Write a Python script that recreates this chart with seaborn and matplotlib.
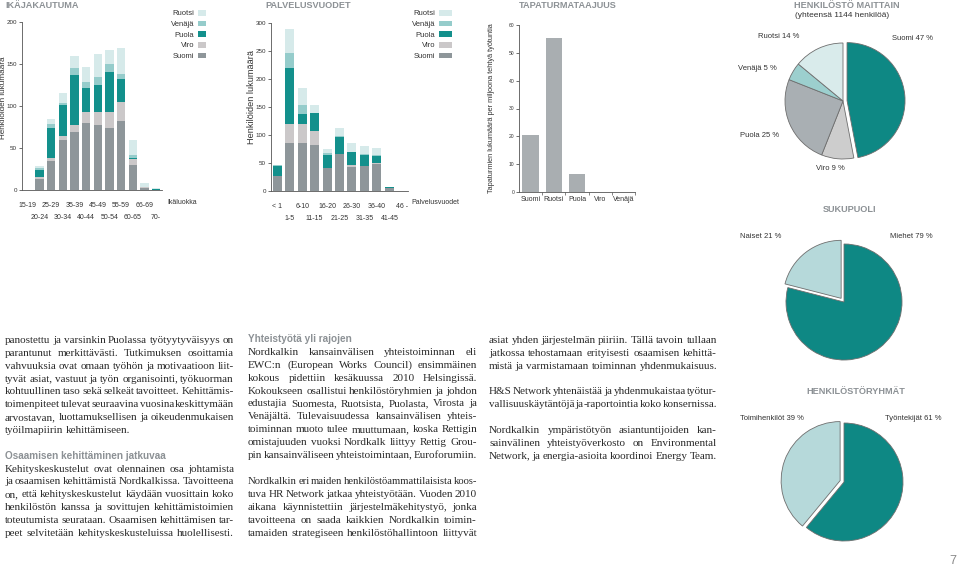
import numpy as np
import pandas as pd
import matplotlib
matplotlib.use("Agg")
import matplotlib.pyplot as plt
import seaborn as sns
from matplotlib.patches import Patch

# ---------------- data ----------------
countries = ["Suomi", "Viro", "Puola", "Venäjä", "Ruotsi"]

age_cats = ["15-19", "20-24", "25-29", "30-34", "35-39", "40-44",
            "45-49", "50-54", "55-59", "60-65", "66-69", "70-"]
age_suomi = [0, 13, 34, 59, 69, 80, 77, 74, 82, 30, 2, 0]
age_viro = [0, 3, 4, 5, 8, 13, 16, 19, 23, 7, 1, 0]
age_puola = [0, 8, 36, 37, 60, 29, 32, 47, 27, 1, 0, 1]
age_venaja = [0, 2, 5, 2, 8, 7, 10, 10, 6, 4, 0, 0]
age_ruotsi = [0, 3, 6, 12, 14, 18, 27, 17, 31, 18, 5, 1]

srv_cats = ["< 1", "1-5", "6-10", "11-15", "16-20", "21-25",
            "26-30", "31-35", "36-40", "41-45", "46 -"]
srv_suomi = [27, 85, 85, 82, 41, 66, 42, 44, 48, 6, 0]
srv_viro = [0, 35, 34, 26, 0, 0, 4, 1, 2, 0, 0]
srv_puola = [17, 99, 19, 32, 24, 31, 23, 20, 13, 1, 0]
srv_venaja = [2, 27, 15, 0, 2, 2, 1, 1, 1, 0, 0]
srv_ruotsi = [1, 44, 31, 13, 8, 14, 16, 15, 12, 0, 0]

acc_cats = ["Suomi", "Ruotsi", "Puola", "Viro", "Venäjä"]
acc_vals = [20.6, 55.2, 6.6, 0, 0]

pie_country_names = ["Suomi", "Viro", "Puola", "Venäjä", "Ruotsi"]
pie_country_vals = [47, 9, 25, 5, 14]
gender_names = ["Miehet", "Naiset"]
gender_vals = [79, 21]
group_names = ["Työntekijät", "Toimihenkilöt"]
group_vals = [61, 39]

# ---------------- style ----------------
sns.set_style("white")
plt.rcParams["font.family"] = ["Liberation Sans", "DejaVu Sans"]

bar_colors = {"Suomi": "#8e969a", "Viro": "#cbc8c9", "Puola": "#13908c",
              "Venäjä": "#95cccb", "Ruotsi": "#d6eaea"}
pie_colors = {"Suomi": "#0e8884", "Viro": "#cdcdcd", "Puola": "#a9afb3",
              "Venäjä": "#9ccfce", "Ruotsi": "#d9ebeb"}
teal = "#0e8884"
light = "#b6d9da"
head_gray = "#8c9195"
txt_dark = "#2a2a2a"

W, H = 960, 566
fig = plt.figure(figsize=(9.6, 5.66), dpi=100, facecolor="white")


def fx(x):
    return x / W


def fy(y):
    return 1 - y / H


def px_axes(l, t, r, b):
    return fig.add_axes([l / W, 1 - b / H, (r - l) / W, (b - t) / H])


def style_axes(ax, ymax, yticks, ysize=4.5):
    sns.despine(ax=ax)
    for s in ["left", "bottom"]:
        ax.spines[s].set_color("#555555")
        ax.spines[s].set_linewidth(0.6)
    ax.set_ylim(0, ymax)
    ax.set_yticks(yticks)
    ax.tick_params(axis="y", left=True, length=2.5, width=0.5, pad=1,
                   labelsize=ysize, colors="#333333")
    ax.set_xlabel("")
    ax.set_ylabel("")
    ax.set_facecolor("none")


def stacked(ax, cats, data, width):
    df = pd.DataFrame(data, index=cats)
    cum = df[countries].cumsum(axis=1)
    for c in reversed(countries):
        sns.barplot(x=list(cats), y=list(cum[c].values), order=list(cats),
                    color=bar_colors[c], saturation=1, width=width,
                    linewidth=0, errorbar=None, ax=ax)
    ax.set_xlim(-0.5, len(cats) - 0.5)
    pos = np.arange(len(cats))
    ax.set_xticks(pos[0::2])
    ax.set_xticklabels(cats[0::2], fontsize=5, color="#333333")
    ax.set_xticks(pos[1::2], minor=True)
    ax.set_xticklabels(cats[1::2], minor=True, fontsize=5, color="#333333")
    ax.tick_params(axis="x", which="major", length=0, pad=9)
    ax.tick_params(axis="x", which="minor", length=0, pad=17)


def legend(anchor_x, anchor_y, hl):
    handles = [Patch(facecolor=bar_colors[c], edgecolor="none", label=c)
               for c in reversed(countries)]
    fig.legend(handles=handles, loc="upper right",
               bbox_to_anchor=(fx(anchor_x), fy(anchor_y)), frameon=False,
               markerfirst=False, fontsize=5.5, handlelength=hl,
               handleheight=0.75, handletextpad=0.5, labelspacing=0.42,
               borderpad=0, borderaxespad=0, labelcolor="#333333")


def title(x, y, s, size=6.6, ha="left"):
    fig.text(fx(x), fy(y), s, ha=ha, va="center", fontsize=size,
             fontweight="bold", color=head_gray)


# ---------------- chart 1: IKÄJAKAUTUMA ----------------
ax1 = px_axes(22, 22, 162, 190)
stacked(ax1, age_cats, {"Suomi": age_suomi, "Viro": age_viro,
                        "Puola": age_puola, "Venäjä": age_venaja,
                        "Ruotsi": age_ruotsi}, 0.72)
style_axes(ax1, 200, [0, 50, 100, 150, 200])
title(5, 5.5, "IKÄJAKAUTUMA")
fig.text(fx(3.6), fy(98), "Henkilöiden lukumäärä", rotation=90,
         ha="center", va="center", fontsize=5.9, color="#333333")
fig.text(fx(167), fy(203), "Ikäluokka", ha="left", va="center",
         fontsize=5, color="#333333")
legend(206, 10, 1.05)

# ---------------- chart 2: PALVELUSVUODET ----------------
ax2 = px_axes(271, 23, 408, 191)
stacked(ax2, srv_cats, {"Suomi": srv_suomi, "Viro": srv_viro,
                        "Puola": srv_puola, "Venäjä": srv_venaja,
                        "Ruotsi": srv_ruotsi}, 0.72)
style_axes(ax2, 300, [0, 50, 100, 150, 200, 250, 300])
title(265, 5.5, "PALVELUSVUODET")
fig.text(fx(251), fy(97), "Henkilöiden lukumäärä", rotation=90,
         ha="center", va="center", fontsize=6.6, color="#333333")
fig.text(fx(411), fy(203), "Palvelusvuodet", ha="left", va="center",
         fontsize=5, color="#333333")
legend(452, 10, 1.7)

# ---------------- chart 3: TAPATURMATAAJUUS ----------------
ax3 = px_axes(519, 25, 635, 192)
sns.barplot(x=acc_cats, y=acc_vals, order=acc_cats, color="#a9aeb1",
            saturation=1, width=0.7, linewidth=0, errorbar=None, ax=ax3)
style_axes(ax3, 60, [0, 10, 20, 30, 40, 50, 60], ysize=3.6)
ax3.set_xlim(-0.5, len(acc_cats) - 0.5)
ax3.set_xticks(np.arange(len(acc_cats)) + 0.5, minor=True)
ax3.tick_params(axis="x", which="minor", bottom=True, length=2.5,
                width=0.5, color="#555555")
ax3.tick_params(axis="x", which="major", length=0, pad=3, labelsize=5,
                colors="#333333")
title(568, 5.5, "TAPATURMATAAJUUS", ha="center")
fig.text(fx(492), fy(108),
         "Tapaturmien lukumäärä per miljoona tehtyä työtuntia",
         rotation=90, ha="center", va="center", fontsize=5.3,
         color="#333333")


# ---------------- pies ----------------
def pie(cx, cy, r, vals, cols, explode):
    half = r * 1.12
    ax = px_axes(cx - half, cy - half, cx + half, cy + half)
    ax.pie(vals, colors=cols, startangle=90, counterclock=False,
           explode=explode,
           wedgeprops=dict(edgecolor="#6e6e6e", linewidth=0.6))
    ax.set_xlim(-1.12, 1.12)
    ax.set_ylim(-1.12, 1.12)
    ax.set_aspect("equal")
    ax.axis("off")


def plabel(x, y, s, ha="left"):
    fig.text(fx(x), fy(y), s, ha=ha, va="center", fontsize=5.5,
             color="#333333")


pie(843, 101, 58, pie_country_vals,
    [pie_colors[n] for n in pie_country_names], [0.07, 0, 0, 0, 0])
title(847, 5.5, "HENKILÖSTÖ MAITTAIN", ha="center")
fig.text(fx(842), fy(15.5), "(yhteensä 1144 henkilöä)", ha="center",
         va="center", fontsize=6, color="#333333")
cv = dict(zip(pie_country_names, pie_country_vals))
plabel(892, 38, f"Suomi {cv['Suomi']} %")
plabel(758, 37, f"Ruotsi {cv['Ruotsi']} %")
plabel(738, 68, f"Venäjä {cv['Venäjä']} %")
plabel(740, 136, f"Puola {cv['Puola']} %")
plabel(816, 168, f"Viro {cv['Viro']} %")

title(850, 210, "SUKUPUOLI", ha="center")
pie(844, 302, 58, gender_vals, [teal, light], [0, 0.08])
gv = dict(zip(gender_names, gender_vals))
plabel(740, 236, f"Naiset {gv['Naiset']} %")
plabel(890, 236, f"Miehet {gv['Miehet']} %")

title(856, 392, "HENKILÖSTÖRYHMÄT", ha="center")
pie(844, 482, 59, group_vals, [teal, light], [0, 0.07])
grv = dict(zip(group_names, group_vals))
plabel(740, 418, f"Toimihenkilöt {grv['Toimihenkilöt']} %")
plabel(885, 418, f"Työntekijät {grv['Työntekijät']} %")

fig.text(fx(953), fy(561), "7", ha="center", va="center", fontsize=9,
         color="#8a8a8a")

# ---------------- body text ----------------
col1 = [
    ("p", "panostettu ja varsinkin Puolassa työtyytyväisyys on"),
    ("p", "parantunut merkittävästi. Tutkimuksen osoittamia"),
    ("p", "vahvuuksia ovat omaan työhön ja motivaatioon liit-"),
    ("p", "tyvät asiat, vastuut ja työn organisointi, työkuorman"),
    ("p", "kohtuullinen taso sekä selkeät tavoitteet. Kehittämis-"),
    ("p", "toimenpiteet tulevat seuraavina vuosina keskittymään"),
    ("p", "arvostavan, luottamuksellisen ja oikeudenmukaisen"),
    ("p", "työilmapiirin kehittämiseen."),
    ("", ""),
    ("h", "Osaamisen kehittäminen jatkuvaa"),
    ("p", "Kehityskeskustelut ovat olennainen osa johtamista"),
    ("p", "ja osaamisen kehittämistä Nordkalkissa. Tavoitteena"),
    ("p", "on, että kehityskeskustelut käydään vuosittain koko"),
    ("p", "henkilöstön kanssa ja sovittujen kehittämistoimien"),
    ("p", "toteutumista seurataan. Osaamisen kehittämisen tar-"),
    ("p", "peet selvitetään kehityskeskusteluissa huolellisesti."),
]
col2 = [
    ("h", "Yhteistyötä yli rajojen"),
    ("p", "Nordkalkin kansainvälisen yhteistoiminnan eli"),
    ("p", "EWC:n (European Works Council) ensimmäinen"),
    ("p", "kokous pidettiin kesäkuussa 2010 Helsingissä."),
    ("p", "Kokoukseen osallistui henkilöstöryhmien ja johdon"),
    ("p", "edustajia Suomesta, Ruotsista, Puolasta, Virosta ja"),
    ("p", "Venäjältä. Tulevaisuudessa kansainvälisen yhteis-"),
    ("p", "toiminnan muoto tulee muuttumaan, koska Rettigin"),
    ("p", "omistajuuden vuoksi Nordkalk liittyy Rettig Grou-"),
    ("p", "pin kansainväliseen yhteistoimintaan, Euroforumiin."),
    ("", ""),
    ("p", "Nordkalkin eri maiden henkilöstöammattilaisista koos-"),
    ("p", "tuva HR Network jatkaa yhteistyötään. Vuoden 2010"),
    ("p", "aikana käynnistettiin järjestelmäkehitystyö, jonka"),
    ("p", "tavoitteena on saada kaikkien Nordkalkin toimin-"),
    ("p", "tamaiden strategiseen henkilöstöhallintoon liittyvät"),
]
col3 = [
    ("p", "asiat yhden järjestelmän piiriin. Tällä tavoin tullaan"),
    ("p", "jatkossa tehostamaan erityisesti osaamisen kehittä-"),
    ("p", "mistä ja varmistamaan toiminnan yhdenmukaisuus."),
    ("", ""),
    ("p", "H&S Network yhtenäistää ja yhdenmukaistaa työtur-"),
    ("p", "vallisuuskäytäntöjä ja -raportointia koko konsernissa."),
    ("", ""),
    ("p", "Nordkalkin ympäristötyön asiantuntijoiden kan-"),
    ("p", "sainvälinen yhteistyöverkosto on Environmental"),
    ("p", "Network, ja energia-asioita koordinoi Energy Team."),
]

renderer = fig.canvas.get_renderer()
BODY_SIZE = 8.05
serif = ["Liberation Serif", "DejaVu Serif"]
head_kw = dict(fontsize=7.2, family=["Liberation Sans", "DejaVu Sans"],
               color=head_gray, fontweight="bold")


def body_kw(size):
    return dict(fontsize=size, family=serif, color=txt_dark)


def measure(s, kw):
    t = fig.text(0, 0, s, **kw)
    w = t.get_window_extent(renderer).width
    t.remove()
    return w


def put_line(s, x0, x1, yb):
    words = s.split(" ")
    width = x1 - x0
    size = BODY_SIZE
    kw = body_kw(size)
    sp = measure("a a", kw) - measure("aa", kw)
    total = sum(measure(w, kw) for w in words)
    natural = total + 1.6 * (len(words) - 1)
    if natural > width:
        size = size * width / natural
        kw = body_kw(size)
        sp = measure("a a", kw) - measure("aa", kw)
    ts = [fig.text(0, fy(yb), w, ha="left", va="baseline", **kw)
          for w in words]
    ws = [t.get_window_extent(renderer).width for t in ts]
    total = sum(ws)
    natural = total + sp * (len(words) - 1)
    if len(words) > 1 and natural > 0.85 * width:
        gap = (width - total) / (len(words) - 1)
    else:
        gap = sp
    x = x0
    for t, w in zip(ts, ws):
        t.set_x(fx(x))
        x += w + gap


def column(lines, x0, x1, y0, step):
    for i, (kind, s) in enumerate(lines):
        yb = y0 + i * step + 3
        if kind == "p":
            put_line(s, x0, x1, yb)
        elif kind == "h":
            fig.text(fx(x0), fy(yb), s, ha="left", va="baseline", **head_kw)


column(col1, 5, 234, 340, 12.85)
column(col2, 248, 477, 339, 12.9)
column(col3, 489, 717, 340, 12.85)

fig.savefig("out.png", dpi=100, facecolor="white")
